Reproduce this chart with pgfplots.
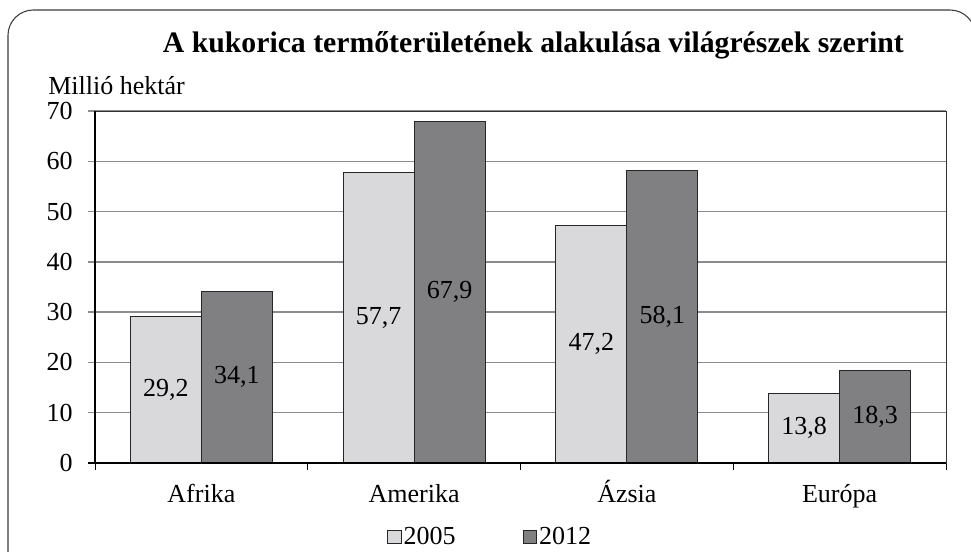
\documentclass[border=0pt]{standalone}
\usepackage{pgfplots}
\pgfplotsset{compat=1.18}
\usepackage{fontspec}
\setmainfont{Liberation Serif}
\definecolor{barlight}{RGB}{217,217,219}
\definecolor{bardark}{RGB}{128,128,131}
\definecolor{gridgray}{RGB}{140,140,140}
\definecolor{framegray}{RGB}{60,60,60}
\newcommand{\lbl}{\fontsize{19.5}{22}\selectfont}
\begin{document}
\begin{tikzpicture}
\path[use as bounding box] (0pt,0pt) rectangle (728.25pt,413.25pt);
\draw[framegray, line width=0.8pt, rounded corners=19pt] (6pt,-30pt) -- (6pt,405.75pt) -- (731.5pt,405.75pt) -- (731.5pt,-30pt);
\node[font=\bfseries\fontsize{22.3}{26}\selectfont] at (400pt,379.5pt) {A kukorica termőterületének alakulása világrészek szerint};
\node[anchor=base west, font=\lbl, inner sep=0pt] at (36pt,342pt) {Millió hektár};
\begin{axis}[
  at={(71.25pt,66pt)}, anchor=south west, scale only axis,
  width=638.25pt, height=264pt,
  xmin=-0.5, xmax=3.5, ymin=0, ymax=70,
  ytick={0,10,...,70},
  xtick={0,1,2,3}, xticklabels={Afrika,Amerika,Ázsia,Európa},
  minor xtick={-0.5,0.5,1.5,2.5,3.5},
  tick pos=left,
  tick align=outside, major tick length=5.25pt, minor tick length=5.25pt,
  major x tick style={draw=none},
  minor x tick style={black, line width=0.75pt},
  major y tick style={gridgray, line width=1.1pt},
  ymajorgrids, major grid style={gridgray, line width=1.1pt},
  axis line style={black!80, line width=0.75pt},
  tick label style={font=\lbl},
  yticklabel style={xshift=-8pt},
  xticklabel style={text height=13.5pt, text depth=4.5pt, yshift=-7pt},
  /pgf/number format/assume math mode=true,
  bar width=53.25pt,
  legend style={draw=none, fill=none, at={(0.3431,-0.2102)}, anchor=west, inner sep=0pt, font=\lbl, legend columns=2, /tikz/every even column/.append style={column sep=49pt}, nodes={inner sep=1.5pt}},
  legend cell align=left,
  legend image code/.code={\draw[#1] (0pt,-5pt) rectangle (10pt,5pt);},
  nodes near coords={\pgfmathprintnumber[use comma,fixed,precision=1,fixed zerofill,assume math mode=true]{\pgfplotspointmeta}},
  visualization depends on={y*264/140 \as \halfh},
  nodes near coords style={anchor=center, yshift=-\halfh pt, font=\lbl},
  after end axis/.code={
    \draw[black, line width=1.1pt] ([xshift=-5.25pt]rel axis cs:0,0) -- (rel axis cs:1,0);
    \draw[black, line width=1.1pt] (rel axis cs:0,0) -- (rel axis cs:0,1);
  },
]
\addplot[ybar, bar shift=-26.625pt, fill=barlight, draw=black!85, line width=0.75pt,
  every node near coord/.append style={xshift=-26.625pt}]
  coordinates {(0,29.2) (1,57.7) (2,47.2) (3,13.8)};
\addlegendentry{2005}
\addplot[ybar, bar shift=26.625pt, fill=bardark, draw=black!85, line width=0.75pt,
  every node near coord/.append style={xshift=26.625pt}]
  coordinates {(0,34.1) (1,67.9) (2,58.1) (3,18.3)};
\addlegendentry{2012}
\end{axis}
\end{tikzpicture}
\end{document}
